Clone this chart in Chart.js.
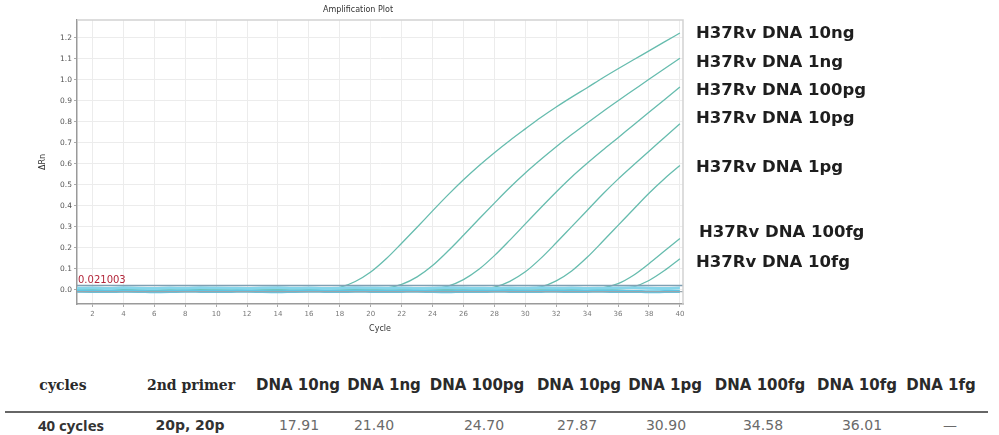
<!DOCTYPE html>
<html>
<head>
<meta charset="utf-8">
<script src="https://cdn.jsdelivr.net/npm/chart.js@4/dist/chart.umd.min.js"></script>
<style>
  html, body { margin: 0; padding: 0; background: #fff; }
  body { width: 999px; height: 435px; position: relative; overflow: hidden; font-family: 'DejaVu Sans', sans-serif; }
  #plot { position: absolute; left: 0; top: 0; }
  .lbl { position: absolute; left: 696px; font: bold 16.5px 'DejaVu Sans'; color: #1e1e1e; white-space: nowrap; transform: translateY(-50%); }
  .cell { position: absolute; white-space: nowrap; transform: translate(-50%, -50%); }
  .head { top: 385px; font: bold 15px 'DejaVu Sans'; color: #2a2a2a; }
  .serif { font: bold 14px 'DejaVu Serif'; }
  .val { top: 425px; font: 14px 'DejaVu Sans'; color: #6a6a6a; }
  .strong { font-weight: bold; color: #333; }
  .rule { position: absolute; left: 5px; width: 983px; top: 411px; height: 2px; background: #666; }
</style>
</head>
<body>
<canvas id="plot" width="999" height="340"></canvas>
<div id="labels"></div>
<div id="table"></div>
<div class="rule"></div>

<script>
// --- data ---
const cycles = [1, 2, 3, 4, 5, 6, 7, 8, 9, 10, 11, 12, 13, 14, 15, 16, 17, 18, 19, 20,
  21, 22, 23, 24, 25, 26, 27, 28, 29, 30, 31, 32, 33, 34, 35, 36, 37, 38, 39, 40];
const xTicks = [2, 4, 6, 8, 10, 12, 14, 16, 18, 20, 22, 24, 26, 28, 30, 32, 34, 36, 38, 40];
const yTicks = [0.0, 0.1, 0.2, 0.3, 0.4, 0.5, 0.6, 0.7, 0.8, 0.9, 1.0, 1.1, 1.2];
const threshold = 0.021003;
const lowerLine = -0.008;

const seriesNames = ['H37Rv DNA 10ng', 'H37Rv DNA 1ng', 'H37Rv DNA 100pg', 'H37Rv DNA 10pg',
  'H37Rv DNA 1pg', 'H37Rv DNA 100fg', 'H37Rv DNA 10fg'];

const dna10ng = [0.002, -0.001, 0.001, -0.002, 0.000, -0.003, -0.001, 0.001, -0.002, -0.001,
  0.000, -0.002, 0.001, -0.001, 0.000, 0.001, 0.003, 0.012, 0.040, 0.085,
  0.148, 0.222, 0.298, 0.376, 0.452, 0.524, 0.591, 0.653, 0.711, 0.766,
  0.820, 0.870, 0.917, 0.962, 1.008, 1.052, 1.095, 1.137, 1.180, 1.222];
const dna1ng = [-0.002, 0.001, -0.001, 0.000, -0.003, -0.002, 0.000, -0.001, -0.003, -0.002,
  0.000, -0.001, -0.002, 0.000, -0.001, -0.003, -0.002, 0.000, 0.001, 0.002,
  0.008, 0.026, 0.062, 0.116, 0.185, 0.260, 0.337, 0.413, 0.487, 0.556,
  0.620, 0.681, 0.739, 0.794, 0.848, 0.900, 0.951, 1.002, 1.052, 1.102];
const dna100pg = [0.001, -0.002, -0.003, -0.001, 0.000, -0.002, -0.004, -0.003, -0.001, -0.002,
  -0.003, -0.001, 0.000, -0.002, -0.003, -0.002, -0.001, -0.003, -0.002, -0.001,
  0.000, -0.001, 0.001, 0.005, 0.018, 0.049, 0.098, 0.163, 0.237, 0.314,
  0.391, 0.466, 0.537, 0.602, 0.664, 0.724, 0.785, 0.845, 0.905, 0.965];
const dna10pg = [-0.003, -0.004, -0.002, -0.003, -0.005, -0.004, -0.002, -0.003, -0.004, -0.005,
  -0.003, -0.002, -0.004, -0.003, -0.002, -0.004, -0.005, -0.003, -0.002, -0.003,
  -0.004, -0.003, -0.002, -0.001, -0.001, 0.001, 0.004, 0.013, 0.041, 0.086,
  0.150, 0.224, 0.301, 0.378, 0.455, 0.527, 0.594, 0.660, 0.725, 0.790];
const dna1pg = [0.000, -0.002, -0.001, 0.001, 0.000, -0.002, -0.001, 0.000, 0.002, 0.001,
  -0.001, 0.000, 0.001, -0.001, -0.002, 0.000, 0.001, 0.000, -0.001, -0.002,
  -0.001, 0.000, 0.001, 0.000, -0.001, -0.002, -0.001, 0.000, 0.001, 0.004,
  0.014, 0.043, 0.090, 0.155, 0.230, 0.307, 0.384, 0.460, 0.529, 0.592];
const dna100fg = [-0.004, -0.006, -0.005, -0.003, -0.005, -0.006, -0.004, -0.005, -0.007, -0.006,
  -0.004, -0.005, -0.006, -0.005, -0.003, -0.004, -0.006, -0.005, -0.004, -0.006,
  -0.005, -0.004, -0.005, -0.006, -0.004, -0.003, -0.005, -0.004, -0.003, -0.004,
  -0.002, -0.002, -0.001, 0.003, 0.010, 0.030, 0.070, 0.125, 0.185, 0.245];
const dna10fg = [0.003, 0.004, 0.002, 0.005, 0.003, 0.004, 0.006, 0.004, 0.003, 0.005,
  0.004, 0.002, 0.003, 0.005, 0.004, 0.003, 0.004, 0.006, 0.005, 0.003,
  0.004, 0.005, 0.003, 0.002, 0.004, 0.005, 0.003, 0.004, 0.002, 0.003,
  0.004, 0.003, 0.002, 0.003, 0.003, 0.004, 0.015, 0.045, 0.092, 0.148];
const dna1fg = [-0.006, -0.007, -0.008, -0.006, -0.007, -0.009, -0.008, -0.006, -0.007, -0.008,
  -0.007, -0.006, -0.008, -0.009, -0.007, -0.006, -0.007, -0.008, -0.006, -0.007,
  -0.008, -0.007, -0.006, -0.008, -0.009, -0.007, -0.008, -0.006, -0.007, -0.008,
  -0.007, -0.006, -0.008, -0.007, -0.006, -0.008, -0.007, -0.009, -0.008, -0.007];
const ntc = [0.008, 0.009, 0.007, 0.010, 0.008, 0.007, 0.009, 0.008, 0.010, 0.009,
  0.008, 0.007, 0.009, 0.010, 0.008, 0.009, 0.007, 0.008, 0.010, 0.009,
  0.008, 0.009, 0.007, 0.008, 0.010, 0.009, 0.008, 0.007, 0.009, 0.008,
  0.010, 0.008, 0.009, 0.007, 0.008, 0.009, 0.010, 0.008, 0.007, 0.009];

// table
const tableHeads = ['cycles', '2nd primer', 'DNA 10ng', 'DNA 1ng', 'DNA 100pg', 'DNA 10pg',
  'DNA 1pg', 'DNA 100fg', 'DNA 10fg', 'DNA 1fg'];
const tableRow = ['40 cycles', '20p, 20p', '17.91', '21.40', '24.70', '27.87',
  '30.90', '34.58', '36.01', '—'];

// --- layout ---
const labelTop = [32, 61, 89, 117, 166, 231, 261];
const labelLeft = [696, 696, 696, 696, 696, 699, 696];
const headX = [63, 191, 298, 384, 477, 579, 665, 760, 857, 941];
const rowX = [71, 190, 299, 374, 484, 577, 666, 763, 862, 950];

const curveColor = '#66bcae';
const curves = [dna10ng, dna1ng, dna100pg, dna10pg, dna1pg, dna100fg, dna10fg];

const datasets = [
  { label: 'DNA 1fg', data: dna1fg, borderColor: '#5fc6e4', borderWidth: 3 },
  { label: 'NTC', data: ntc, borderColor: '#85d5ea', borderWidth: 3 }
];
curves.forEach((d, i) => {
  datasets.push({ label: seriesNames[i], data: d, borderColor: curveColor, borderWidth: 1.3 });
});
datasets.forEach(ds => {
  ds.data = ds.data.map((v, i) => ({ x: cycles[i], y: v }));
  ds.pointRadius = 0;
  ds.fill = false;
  ds.cubicInterpolationMode = 'monotone';
});

// threshold lines, frame, title, threshold text
const overlay = {
  id: 'overlay',
  afterDatasetsDraw(chart) {
    const { ctx, chartArea: a, scales: { y } } = chart;
    ctx.save();
    const ty = y.getPixelForValue(threshold);
    ctx.strokeStyle = '#7f9fb2';
    ctx.lineWidth = 1.5;
    ctx.beginPath(); ctx.moveTo(a.left, ty); ctx.lineTo(a.right, ty); ctx.stroke();
    const ly = y.getPixelForValue(lowerLine);
    ctx.strokeStyle = '#9aa6ad';
    ctx.lineWidth = 1.2;
    ctx.beginPath(); ctx.moveTo(a.left, ly); ctx.lineTo(a.right, ly); ctx.stroke();

    ctx.strokeStyle = '#d2d2d2';
    ctx.lineWidth = 1.5;
    ctx.beginPath();
    ctx.moveTo(a.left, a.top); ctx.lineTo(a.right, a.top); ctx.lineTo(a.right, a.bottom);
    ctx.stroke();

    ctx.fillStyle = '#b3263a';
    ctx.font = '10px "DejaVu Sans"';
    ctx.textBaseline = 'bottom';
    ctx.fillText(threshold.toFixed(6), a.left + 1, ty - 0.5);

    ctx.fillStyle = '#333';
    ctx.font = '8px "DejaVu Sans"';
    ctx.textAlign = 'center';
    ctx.textBaseline = 'middle';
    ctx.fillText('Amplification Plot', 358, 10);
    ctx.restore();
  }
};

new Chart(document.getElementById('plot'), {
  type: 'line',
  data: { datasets },
  options: {
    responsive: false,
    animation: false,
    layout: { padding: { left: 38, top: 20, right: 316, bottom: 6 } },
    plugins: { legend: { display: false }, tooltip: { enabled: false } },
    scales: {
      x: {
        type: 'linear',
        min: 1,
        max: 40.2,
        afterBuildTicks: s => { s.ticks = xTicks.map(v => ({ value: v })); },
        afterFit: s => { s.height = 30; },
        ticks: { color: '#777', font: { size: 7, family: 'DejaVu Sans' }, padding: 3, maxRotation: 0, autoSkip: false },
        grid: { color: '#ececec', tickColor: '#aaa', tickLength: 3 },
        border: { color: '#9a9a9a', width: 1.5 },
        title: { display: true, text: 'Cycle', color: '#333', font: { size: 8, family: 'DejaVu Sans' }, padding: { top: 2, bottom: 0 } }
      },
      y: {
        type: 'linear',
        min: -0.067,
        max: 1.284,
        afterBuildTicks: s => { s.ticks = yTicks.map(v => ({ value: v })); },
        afterFit: s => { s.width = 39; },
        ticks: { color: '#555', font: { size: 7.5, family: 'DejaVu Sans' }, padding: 2, callback: v => v.toFixed(1) },
        grid: { color: '#ececec', tickColor: '#aaa', tickLength: 3 },
        border: { color: '#9a9a9a', width: 1.5 },
        title: { display: true, text: 'ΔRn', color: '#333', font: { size: 8, family: 'DejaVu Sans' }, padding: 0 }
      }
    }
  },
  plugins: [overlay]
});

// right-side curve labels
document.getElementById('labels').innerHTML = seriesNames.map((n, i) =>
  `<div class="lbl" style="top:${labelTop[i]}px; left:${labelLeft[i]}px">${n}</div>`).join('');

// summary table
document.getElementById('table').innerHTML =
  tableHeads.map((h, i) => `<div class="cell head${i < 2 ? ' serif' : ''}" style="left:${headX[i]}px">${h}</div>`).join('') +
  tableRow.map((v, i) => `<div class="cell val${i < 2 ? ' strong' : ''}" style="left:${rowX[i]}px${i === 0 ? ";font-family:'Open Sans';font-size:15px" : ''}">${v}</div>`).join('');
</script>
</body>
</html>
